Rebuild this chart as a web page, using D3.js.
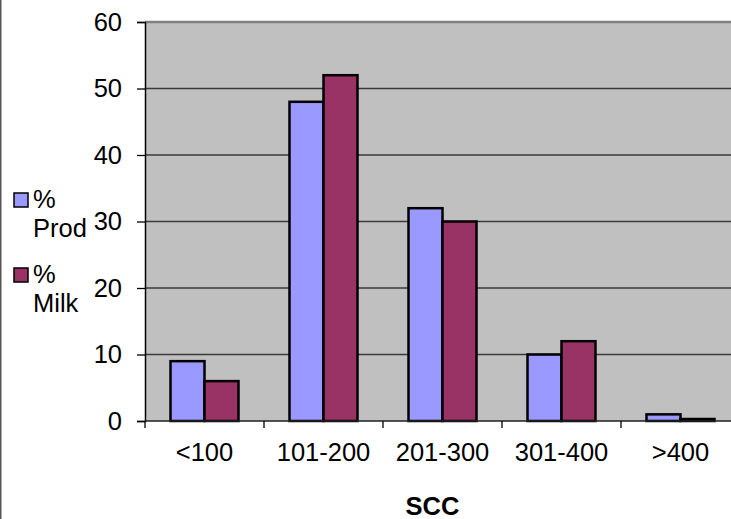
<!DOCTYPE html>
<html>
<head>
<meta charset="utf-8">
<script src="https://cdn.jsdelivr.net/npm/d3@7"></script>
<style>
  html, body { margin: 0; padding: 0; background: #fff; }
  svg { display: block; font-family: "Liberation Sans", Arial, sans-serif; }
</style>
</head>
<body>
<div id="chart"></div>
<script>
// ─── Data ───
const categories = ['<100', '101-200', '201-300', '301-400', '>400'];
const seriesNames = ['% Prod', '% Milk'];
const prodValues = [9, 48, 32, 10, 1];
const milkValues = [6, 52, 30, 12, 0.3];
const yTicks = [0, 10, 20, 30, 40, 50, 60];

const colors = ['#9999ff', '#993366'];
const seriesValues = [prodValues, milkValues];

const W = 731, H = 519;
const FS = '25.5px';
const plot = { left: 145, top: 22, right: 740, bottom: 421 };

const svg = d3.select('#chart').append('svg')
    .attr('width', W)
    .attr('height', H);

// outer chart border (only the left edge is visible in the crop)
svg.append('rect')
    .attr('x', 0).attr('y', -5)
    .attr('width', 1.5).attr('height', H + 10)
    .attr('fill', '#555');

const x0 = d3.scaleBand()
    .domain(categories)
    .range([plot.left, plot.right])
    .padding(0);

const x1 = d3.scaleBand()
    .domain(seriesNames)
    .range([0, x0.bandwidth()])
    .paddingInner(0)
    .paddingOuter(0.75);

const y = d3.scaleLinear()
    .domain([0, 60])
    .range([plot.bottom, plot.top]);

// ─── Plot area ───
svg.append('rect')
    .attr('x', plot.left)
    .attr('y', plot.top)
    .attr('width', plot.right - plot.left)
    .attr('height', plot.bottom - plot.top)
    .attr('fill', '#c0c0c0');

svg.append('line')
    .attr('x1', plot.left).attr('x2', plot.right)
    .attr('y1', plot.top).attr('y2', plot.top)
    .attr('stroke', '#808080')
    .attr('stroke-width', 2.5);

// gridlines
svg.append('g')
    .selectAll('line')
    .data(yTicks.filter(t => t > 0 && t < 60))
    .join('line')
    .attr('x1', plot.left).attr('x2', plot.right)
    .attr('y1', d => y(d)).attr('y2', d => y(d))
    .attr('stroke', '#3a3a3a')
    .attr('stroke-width', 1.3);

// ─── Bars ───
const groups = svg.append('g')
    .selectAll('g')
    .data(categories)
    .join('g')
    .attr('transform', d => `translate(${x0(d)},0)`);

groups.selectAll('rect')
    .data((d, i) => seriesNames.map((s, k) => ({ s, k, v: seriesValues[k][i] })))
    .join('rect')
    .attr('x', d => x1(d.s))
    .attr('y', d => y(d.v))
    .attr('width', x1.bandwidth())
    .attr('height', d => y(0) - y(d.v))
    .attr('fill', d => colors[d.k])
    .attr('stroke', '#000')
    .attr('stroke-width', 2.5);

// ─── Axes ───
const yAxis = svg.append('g')
    .attr('transform', `translate(${plot.left},0)`)
    .call(d3.axisLeft(y).tickValues(yTicks).tickSize(8).tickPadding(15));
yAxis.select('.domain').attr('stroke', '#000').attr('stroke-width', 1.5);
yAxis.selectAll('.tick line').attr('stroke', '#000').attr('stroke-width', 1.3);
yAxis.selectAll('.tick text')
    .attr('fill', '#000')
    .style('font-size', FS)
    .style('font-family', '"Liberation Sans", Arial, sans-serif');

// x axis: ticks sit on band boundaries
const xAxis = svg.append('g');
xAxis.append('line')
    .attr('x1', plot.left).attr('x2', plot.right)
    .attr('y1', plot.bottom).attr('y2', plot.bottom)
    .attr('stroke', '#222')
    .attr('stroke-width', 1.5);
xAxis.selectAll('line.tk')
    .data(categories)
    .join('line')
    .attr('class', 'tk')
    .attr('x1', d => x0(d)).attr('x2', d => x0(d))
    .attr('y1', plot.bottom).attr('y2', plot.bottom + 7)
    .attr('stroke', '#000')
    .attr('stroke-width', 1.3);
xAxis.selectAll('text')
    .data(categories)
    .join('text')
    .attr('x', d => x0(d) + x0.bandwidth() / 2)
    .attr('y', 461)
    .attr('text-anchor', 'middle')
    .style('font-size', FS)
    .text(d => d);

svg.append('text')
    .attr('x', (plot.left + plot.right) / 2 - 10)
    .attr('y', 515)
    .attr('text-anchor', 'middle')
    .style('font-size', FS)
    .style('font-weight', 'bold')
    .text('SCC');

// ─── Legend ───
const legend = svg.append('g');
const legendTop = [193, 268];
seriesNames.forEach((name, k) => {
    const [sym, word] = name.split(' ');
    legend.append('rect')
        .attr('x', 14).attr('y', legendTop[k])
        .attr('width', 14).attr('height', 14)
        .attr('fill', colors[k])
        .attr('stroke', '#000')
        .attr('stroke-width', 1.5);
    legend.append('text')
        .attr('x', 33).attr('y', legendTop[k] + 15)
        .style('font-size', FS)
        .text(sym);
    legend.append('text')
        .attr('x', 33).attr('y', legendTop[k] + 44)
        .style('font-size', FS)
        .text(word);
});
</script>
</body>
</html>
